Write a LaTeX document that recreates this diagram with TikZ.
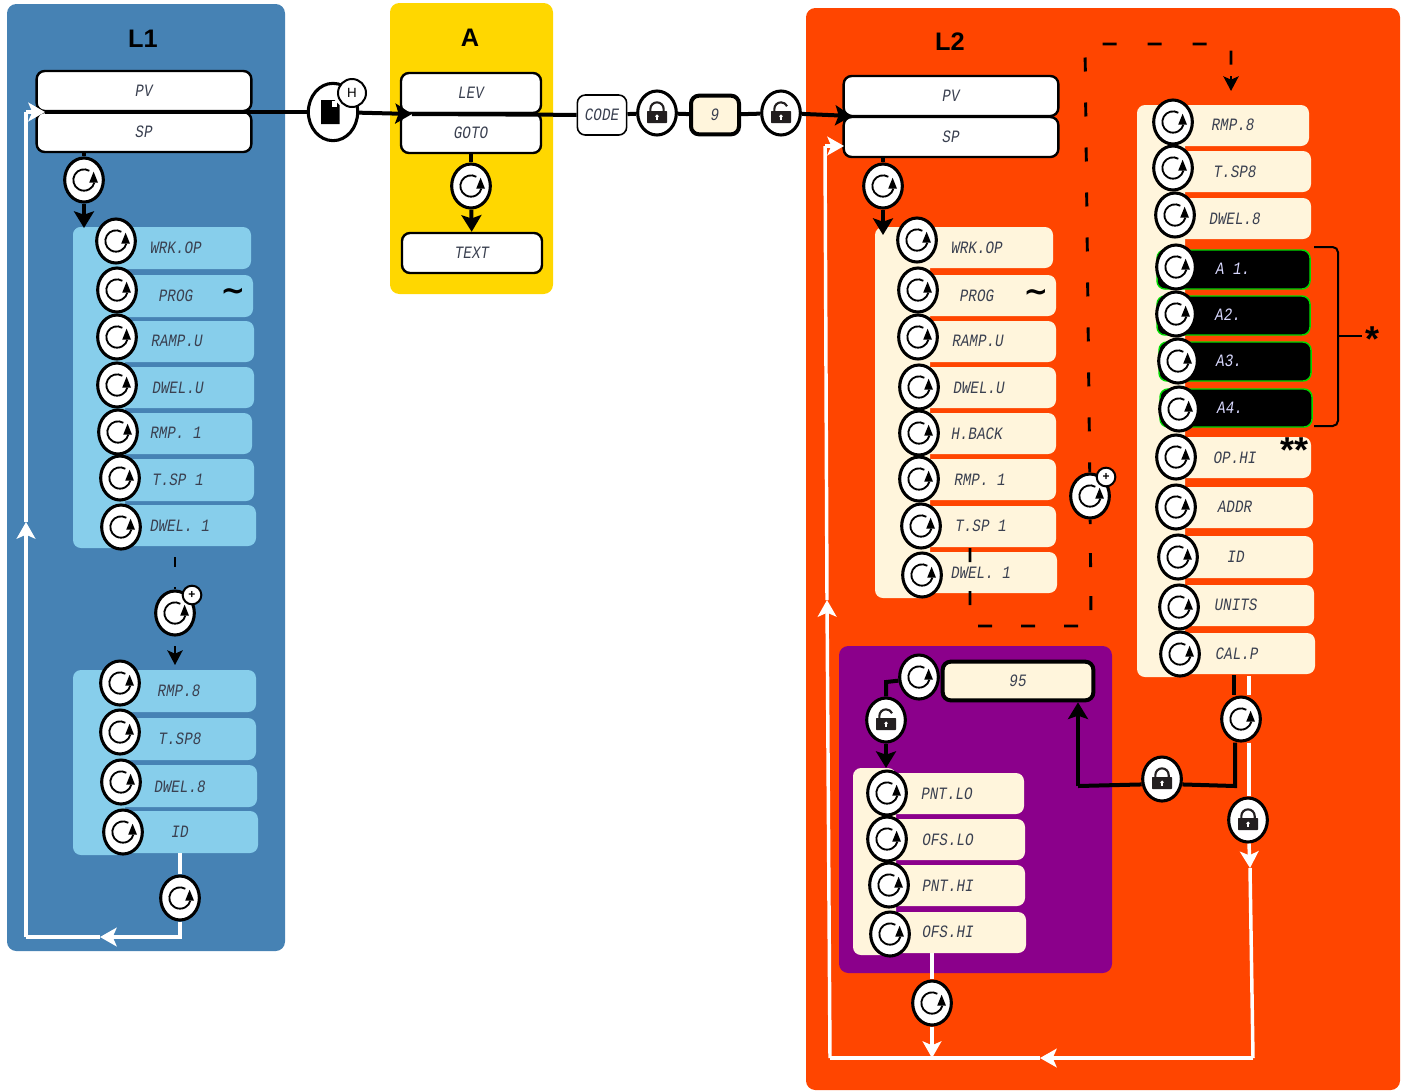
\documentclass[tikz,border=0pt]{standalone}
\usepackage{fontspec}
\setmainfont{Liberation Sans}
\newfontfamily\segfont[FakeStretch=.82]{Liberation Mono}
\newfontfamily\symfont{DejaVu Sans}
\usetikzlibrary{arrows.meta,shapes.geometric}
\definecolor{paneA}{HTML}{4682B4}
\definecolor{paneB}{HTML}{FFD700}
\definecolor{paneC}{HTML}{FF4500}
\definecolor{paneD}{HTML}{8B008B}
\definecolor{rowA}{HTML}{87CEEB}
\definecolor{rowB}{HTML}{FFF5DC}
\definecolor{segink}{HTML}{3A4050}
\definecolor{lockink}{HTML}{231F20}
\tikzset{
  panel/.style={rounded corners=7pt},
  headline/.style={font=\fontsize{19}{19}\selectfont\bfseries},
  seg/.style={font=\segfont\itshape\fontsize{13}{13}\selectfont,text=segink,inner sep=0pt},
  seglight/.style={seg,text=white!85!blue},
  mainbox/.style={rectangle,draw=black,fill=white,line width=1.8pt,rounded corners=6pt,minimum height=30pt,inner sep=0pt},
  codebox/.style={mainbox,fill=rowB,line width=3pt},
  rowbox/.style={rectangle,rounded corners=6pt,inner sep=0pt},
  rowblue/.style={rowbox,fill=rowA},
  rowcream/.style={rowbox,fill=rowB},
  rowblack/.style={rowbox,fill=black,draw=green!85!black,line width=1.1pt},
  tildemark/.style={font=\symfont\bfseries\fontsize{22}{22}\selectfont,inner sep=0pt},
  starmark/.style={font=\bfseries\fontsize{27}{27}\selectfont,inner sep=0pt},
  knob/.style={ellipse,draw=black,fill=white,line width=2.3pt,minimum width=29pt,minimum height=33pt,inner sep=0pt},
  cyc/.style={knob,path picture={
    \begin{scope}[shift={(path picture bounding box.center)}]
    \draw[black,line width=1.4pt] (60:8pt) arc[start angle=60,end angle=345,radius=8pt];
    \fill[black] (7.2pt,6.2pt) -- (3.9pt,-2pt) -- (10.5pt,-2pt) -- cycle;
    \end{scope}}},
  lock/.style={knob,path picture={
    \begin{scope}[shift={(path picture bounding box.center)}]
    \fill[lockink,rounded corners=.5pt] (-7.5pt,-7.5pt) rectangle (7.5pt,1.5pt);
    \draw[lockink,line width=1.6pt] (-5pt,1.5pt) -- (-5pt,3pt) arc[start angle=180,end angle=0,radius=5pt] -- (5pt,1.5pt);
    \fill[white] (-1pt,-5.5pt) rectangle (1pt,-2.5pt);
    \fill[white] (0pt,-2.5pt) circle[radius=1.4pt];
    \end{scope}}},
  unlock/.style={knob,path picture={
    \begin{scope}[shift={(path picture bounding box.center)}]
    \fill[lockink,rounded corners=.5pt] (-7.5pt,-7.5pt) rectangle (7.5pt,1.5pt);
    \draw[lockink,line width=1.6pt] (-5pt,1.5pt) -- (-5pt,3pt) arc[start angle=180,end angle=25,radius=5pt];
    \fill[white] (-1pt,-5.5pt) rectangle (1pt,-2.5pt);
    \fill[white] (0pt,-2.5pt) circle[radius=1.4pt];
    \end{scope}}},
  docknob/.style={knob,minimum width=37pt,minimum height=43pt,path picture={
    \begin{scope}[shift={(path picture bounding box.center)}]
    \fill[black] (-9pt,-9pt) -- (-9pt,9pt) -- (1pt,9pt) -- (5pt,5pt) -- (5pt,-9pt) -- cycle;
    \fill[white] (-1pt,8pt) rectangle (3pt,3.5pt);
    \end{scope}}},
  badge/.style={circle,draw=black,fill=white,line width=1.5pt,inner sep=0pt},
  blk/.style={draw=black,line width=3pt},
  blkarr/.style={blk,-{Stealth[length=12.5pt,width=15pt,inset=2.5pt]}},
  thinarr/.style={draw=black,line width=1.6pt,-{Stealth[length=11pt,width=11.5pt,inset=2.5pt]}},
  wht/.style={draw=white,line width=2.6pt},
  whtarr/.style={wht,-{Stealth[length=12.5pt,width=14pt,inset=3pt]}},
  dashlong/.style={draw=black,line width=2.2pt,dash pattern=on 10.5pt off 23.25pt,dash phase=3pt},
  dashshort/.style={draw=black,line width=2.2pt,dash pattern=on 10.5pt off 21.75pt},
  dashtiny/.style={draw=black,line width=1.8pt,dash pattern=on 7.5pt off 15pt},
}
\newcommand{\rowlist}[3]{%
  \foreach \nm/\xa/\ya/\xb/\yb/\bx/\by/\tx/\ty/\lab in {#3}{
    \node[#1,minimum width={(\xb-\xa)*.75pt},minimum height={(\yb-\ya)*.75pt}] (\nm) at ({(\xa+\xb)/2},{(\ya+\yb)/2}) {};
    \node[#2] (\nm-t) at (\tx,\ty) {\lab};
    \node[cyc] (\nm-c) at (\bx,\by) {};
  }}
\begin{document}
\begin{tikzpicture}[x=.75pt,y=-.75pt]
\useasboundingbox (0,0) rectangle (1408,1090);
\fill[panel,paneA] (7,4) rectangle (285,951);
\fill[panel,paneB] (390,3) rectangle (553,294);
\fill[panel,paneC] (806,8) rectangle (1400,1090);
\fill[panel,paneD] (839,646) rectangle (1112,973);
\node[headline] (titleA) at (143,39) {L1};
\node[headline] (titleB) at (470,38) {A};
\node[headline] (titleC) at (950,42) {L2};

\fill[rowA,rounded corners=6pt] (73,227) rectangle (125,548);
\fill[rowA,rounded corners=6pt] (73,670) rectangle (125,855);
\fill[rowB,rounded corners=6pt] (875,227) rectangle (930,598);
\fill[rowB,rounded corners=6pt] (1137,105) rectangle (1185,677);
\fill[rowB,rounded corners=6pt] (853,768) rectangle (896,955);

\node[mainbox,minimum width=161pt,seg] (pvA) at (144,91) {PV};
\node[mainbox,minimum width=161pt,seg] (spA) at (144,132) {SP};
\node[mainbox,minimum width=105pt,seg] (lev) at (471,93) {LEV};
\node[mainbox,minimum width=105pt,seg] (goto) at (471,133) {GOTO};
\node[mainbox,minimum width=105pt,seg] (text) at (472,253) {TEXT};
\node[mainbox,minimum width=161pt,seg] (pvB) at (951,96) {PV};
\node[mainbox,minimum width=161pt,seg] (spB) at (951,137) {SP};
\node[mainbox,minimum width=37pt,line width=1.2pt,seg] (code) at (602,115) {CODE};
\node[codebox,minimum width=36pt,minimum height=29pt,seg] (nine) at (715,115) {9};
\node[codebox,minimum width=113pt,minimum height=29pt,seg] (ninefive) at (1018,681) {95};

\rowlist{rowblue}{seg}{
  wrkA/73/227/251/269/116/241/176/248/WRK.OP,
  progA/97/275/253/317/117/290/176/296/PROG,
  rampA/97/321/254/362/117/337/177/341/RAMP.U,
  dwuA/97/367/254/408/117/385/178/388/DWEL.U,
  rm1A/97/413/252/454/118/432/176/433/RMP. 1,
  ts1A/97/459/254/501/120/478/178/480/T.SP 1,
  dw1A/97/505/256/546/121/527/180/526/DWEL. 1,
  rm8A/97/670/256/712/120/683/179/691/RMP.8,
  ts8A/97/718/256/760/120/732/180/739/T.SP8,
  dw8A/97/765/257/807/121/782/180/787/DWEL.8,
  idA/97/811/258/853/123/832/180/832/ID}
\rowlist{rowcream}{seg}{
  wrkB/900/227/1053/268/917/240/977/248/WRK.OP,
  progB/900/275/1056/316/918/290/977/296/PROG,
  rampB/900/321/1056/362/918/337/978/341/RAMP.U,
  dwuB/900/367/1056/408/919/387/979/388/DWEL.U,
  hbkB/900/413/1056/454/919/433/977/434/H.BACK,
  rm1B/900/459/1056/500/919/479/980/480/RMP. 1,
  ts1B/900/506/1056/547/921/526/981/526/T.SP 1,
  dw1B/900/552/1057/593/922/575/981/573/DWEL. 1,
  rm8C/1160/105/1309/146/1173/122/1233/125/RMP.8,
  ts8C/1160/151/1311/192/1173/168/1235/172/T.SP8,
  dw8C/1160/198/1311/239/1175/215/1235/219/DWEL.8,
  ophC/1170/437/1311/478/1176/457/1235/458/OP.HI,
  addC/1170/487/1313/528/1176/507/1235/507/ADDR,
  idC/1170/536/1313/578/1178/557/1236/557/ID,
  untC/1170/585/1314/626/1179/607/1236/605/UNITS,
  calC/1170/633/1315/674/1180/654/1237/654/CAL.P,
  pnlD/880/773/1024/814/887/793/947/794/PNT.LO,
  oflD/880/819/1025/860/887/839/948/840/OFS.LO,
  pnhD/880/865/1025/906/889/885/948/886/PNT.HI,
  ofhD/880/912/1026/953/890/934/948/932/OFS.HI}
\rowlist{rowblack}{seglight}{
  a1C/1157/250/1310/289/1176/267/1233/269/A 1.,
  a2C/1157/296/1310/335/1176/314/1228/315/A2.,
  a3C/1159/342/1311/381/1178/361/1229/361/A3.,
  a4C/1160/389/1312/427/1179/409/1230/408/A4.}

\node[tildemark] (tildeA) at (233,294) {\textasciitilde};
\node[tildemark] (tildeB) at (1036,295) {\textasciitilde};
\node[starmark] (stars) at (1294,450) {**};
\node[starmark] (star) at (1372,339) {*};

\node[cyc] (cycA) at (84,180) {};
\node[cyc] (cycB) at (471,186) {};
\node[cyc] (cycC) at (883,186) {};
\node[cyc] (cycD) at (175,613) {};
\node[cyc] (cycE) at (180,898) {};
\node[cyc] (cycF) at (1090,496) {};
\node[cyc] (cycG) at (1241,719) {};
\node[cyc] (cycH) at (919,677) {};
\node[cyc] (cycI) at (932,1003) {};
\node[docknob] (hold) at (333,112) {};
\node[badge,minimum size=21pt,font=\fontsize{10}{10}\selectfont] (holdH) at (352,93) {H};
\node[badge,minimum size=14pt,font=\bfseries\fontsize{9}{9}\selectfont] (plusA) at (192,595) {+};
\node[badge,minimum size=14pt,font=\bfseries\fontsize{9}{9}\selectfont] (plusB) at (1106,477) {+};
\node[lock] (lockA) at (657,113) {};
\node[unlock] (openA) at (781,113) {};
\node[lock] (lockB) at (1162,779) {};
\node[lock] (lockC) at (1248,820) {};
\node[unlock] (openB) at (886,720) {};

\coordinate (startA) at (45,112);
\coordinate (tipA) at (412,114);
\coordinate (tipB) at (852,116);
\coordinate (tipC) at (84,228);
\coordinate (tipD) at (883,235);
\coordinate (arrE) at (175,646);
\coordinate (tipE) at (175,665);
\coordinate (tipG) at (886,768);
\coordinate (dashA) at (175,557);
\coordinate (dashB) at (970,548);
\coordinate (dashC) at (970,626);
\coordinate (dashD) at (1091,626);
\coordinate (dashE) at (1085,44);
\coordinate (dashF) at (1231,44);
\coordinate (dashG) at (1231,76);
\coordinate (tipF) at (1231,91);
\coordinate (calA) at (1234,675);
\coordinate (turnA) at (1235,786);
\coordinate (turnB) at (1078,786);
\coordinate (turnC) at (886,682);
\coordinate (brA) at (1314,247);
\coordinate (brB) at (1338,247);
\coordinate (brC) at (1338,426);
\coordinate (brD) at (1314,426);
\coordinate (brE) at (1338,336);
\coordinate (brF) at (1362,336);
\coordinate (wa) at (180,853);
\coordinate (wb) at (180,937);
\coordinate (wc) at (100,937);
\coordinate (wd) at (26,937);
\coordinate (we) at (26,522);
\coordinate (wf) at (26,112);
\coordinate (wg) at (45,112);
\coordinate (wh) at (1249,676);
\coordinate (wi) at (1250,868);
\coordinate (wj) at (1253,1058);
\coordinate (wk) at (1040,1058);
\coordinate (wl) at (830,1058);
\coordinate (wm) at (827,600);
\coordinate (wn) at (825,146);
\coordinate (wo) at (844,146);
\coordinate (wp) at (932,953);
\coordinate (wq) at (932,1058);

\draw[blk] (startA) -- (hold);
\draw[blkarr] (hold) -- (tipA);
\draw[blk] (tipA) -- (code);
\draw[blk] (code) -- (lockA);
\draw[blk] (lockA) -- (nine);
\draw[blk] (nine) -- (openA);
\draw[blkarr] (openA) -- (tipB);
\draw[blk] (cycA |- spA.south) -- (cycA);
\draw[blkarr] (cycA) -- (tipC);
\draw[blk] (goto) -- (cycB);
\draw[blkarr] (cycB) -- (text);
\draw[blk] (cycC |- spB.south) -- (cycC);
\draw[blkarr] (cycC) -- (tipD);
\draw[dashtiny] (dashA) -- (cycD);
\draw[thinarr] (arrE) -- (tipE);
\draw[dashshort] (dashB) -- (dashC) -- (dashD) -- (cycF);
\draw[dashlong] (cycF) -- (dashE) -- (dashF) -- (dashG);
\draw[thinarr] (dashG) -- (tipF);
\draw[blk] (calA) -- (calA |- cycG.north);
\draw[blk] (turnA |- cycG.south) -- (turnA) -- (lockB.-15);
\draw[blk] (lockB.195) -- (turnB);
\draw[blkarr] (turnB) -- (ninefive.south -| turnB);
\draw[blk] (cycH.190) -- (turnC) -- (openB);
\draw[blkarr] (openB) -- (tipG);
\draw[black,line width=1.5pt,rounded corners=4pt] (brA) -- (brB) -- (brC) -- (brD);
\draw[black,line width=1.5pt] (brE) -- (brF);

\draw[wht] (wa) -- (cycE);
\draw[whtarr] (cycE) -- (wb) -- (wc);
\draw[wht] (wc) -- (wd);
\draw[whtarr] (wd) -- (we);
\draw[wht] (we) -- (wf);
\draw[whtarr] (wf) -- (wg);
\draw[wht] (wh) -- (wh |- cycG.north);
\draw[wht] (wh |- cycG.south) -- (wh |- lockC.north);
\draw[whtarr] (lockC) -- (wi);
\draw[wht] (wi) -- (wj);
\draw[whtarr] (wj) -- (wk);
\draw[wht] (wk) -- (wl);
\draw[whtarr] (wl) -- (wm);
\draw[wht] (wm) -- (wn);
\draw[whtarr] (wn) -- (wo);
\draw[wht] (wp) -- (cycI);
\draw[whtarr] (cycI) -- (wq);
\end{tikzpicture}
\end{document}
